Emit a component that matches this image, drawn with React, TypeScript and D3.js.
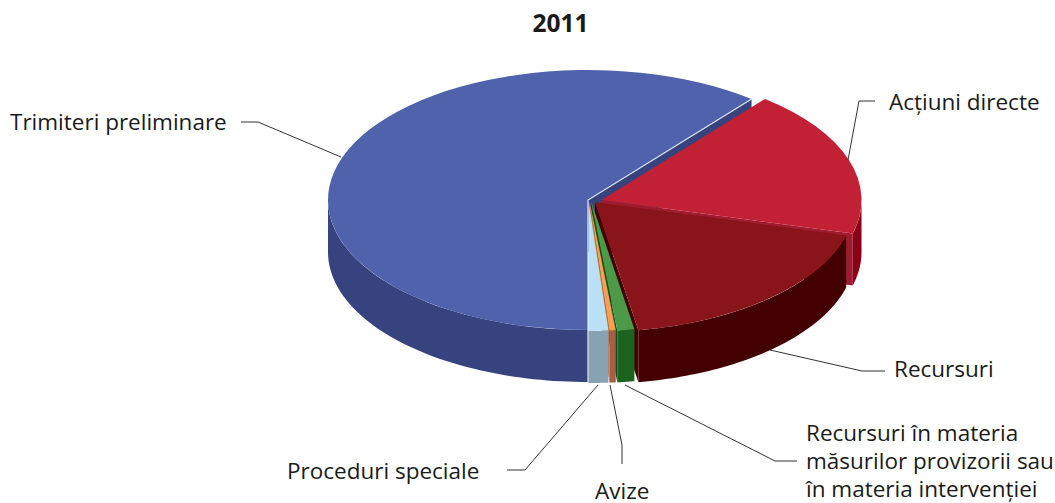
import React from "react";
import * as d3 from "d3";

const title = "2011";
const categories = ["Trimiteri preliminare", "Acțiuni directe", "Recursuri", "Recursuri în materia măsurilor provizorii sau în materia intervenției", "Avize", "Proceduri speciale"];
const shares = [60.83, 18.33, 18.17, 1.06, 0.39, 1.22];
const topColors = ["#4f62ab", "#c22034", "#89151a", "#4b9a48", "#f79f53", "#b9e0f5"];
const sideColors = ["#37437f", "#8b0016", "#440000", "#1b641f", "#ab5c44", "#87a2b2"];
const cutColors = ["#37437f", "#a01a30", "#440000", "#124d18", "#c9703c", "#87a2b2"];

// layout constants
const RX = 260, RY = 130, DEPTH = 52;
const centers: [number, number][] = [[588, 200], [601.5, 200], [595, 202], [591, 201], [589.5, 201], [588.5, 201]];
const paintOrder = [0, 1, 2, 3, 4, 5];

const arcs = d3.pie<number>().sort(null).startAngle(Math.PI).endAngle(3 * Math.PI)(shares);
const arcGen = d3.arc<any>().innerRadius(0).outerRadius(RX);
const lineGen = d3.line();

const rim = (i: number, t: number): [number, number] => [
  centers[i][0] + RX * Math.sin(t),
  centers[i][1] - RY * Math.cos(t),
];

function wall(i: number): string | null {
  const a = arcs[i];
  const ranges: [number, number][] = [];
  for (const k of [0, 2 * Math.PI]) {
    const l = Math.max(a.startAngle - k, Math.PI / 2), h = Math.min(a.endAngle - k, 1.5 * Math.PI);
    if (h > l) ranges.push([l, h]);
  }
  if (!ranges.length) return null;
  return ranges.map(([l, h]) => {
    const ts = d3.range(0, 61).map((k) => l + ((h - l) * k) / 60);
    const top = ts.map((t) => rim(i, t));
    const bot = ts.slice().reverse().map((t) => { const p = rim(i, t); return [p[0], p[1] + DEPTH] as [number, number]; });
    return lineGen([...top, ...bot]) + "Z";
  }).join("");
}

function cutFace(i: number, t: number): string {
  const c = centers[i];
  const p = rim(i, t);
  return lineGen([c, p, [p[0], p[1] + DEPTH], [c[0], c[1] + DEPTH]]) + "Z";
}

const labelFont = "'Open Sans', sans-serif";
const labels: { lines: string[]; x: number; y: number }[] = [
  { lines: ["Trimiteri preliminare"], x: 10, y: 130 },
  { lines: ["Acțiuni directe"], x: 889, y: 110 },
  { lines: ["Recursuri"], x: 894, y: 377 },
  { lines: ["Recursuri în materia", "măsurilor provizorii sau", "în materia intervenției"], x: 806, y: 441 },
  { lines: ["Avize"], x: 595, y: 499 },
  { lines: ["Proceduri speciale"], x: 287, y: 479 },
];
const leaders: [number, number][][] = [
  [[241, 122], [258, 122], [341, 157]],
  [[875, 101], [859, 101], [848, 160]],
  [[770, 350], [862, 371], [885, 371]],
  [[625, 385], [775, 461], [797, 461]],
  [[610, 385], [622, 445], [622, 464]],
  [[598, 385], [525, 470], [507, 470]],
];

export default function App() {
  return (
    <svg width={1055} height={503} style={{ position: "absolute", left: 0, top: 0, background: "#fff" }}>
      <text x={560.5} y={32} textAnchor="middle" fontFamily={labelFont} fontWeight={700} fontSize={24.5} fill="#1a1a1a">{title}</text>
      {paintOrder.map((i) => {
        const a = arcs[i];
        const w = wall(i);
        return (
          <g key={categories[i]}>
            {i < 5 && <path d={cutFace(i, a.endAngle)} fill={cutColors[i]} />}
            {w && <path d={w} fill={sideColors[i]} />}
            <path
              d={arcGen(a) as string}
              transform={`translate(${centers[i][0]},${centers[i][1]}) scale(1,${RY / RX})`}
              fill={topColors[i]}
            />
            {i === 0 && (
              <path d={lineGen([rim(0, a.endAngle), centers[0], [centers[0][0], centers[0][1] + 182]]) as string}
                fill="none" stroke="#dfe6f4" strokeWidth={1.2} />
            )}
          </g>
        );
      })}
      {leaders.map((pts, k) => (
        <path key={k} d={lineGen(pts) as string} fill="none" stroke="#333" strokeWidth={1} />
      ))}
      {labels.map((l) => (
        <text key={l.lines[0]} x={l.x} y={l.y} fontFamily={labelFont} fontSize={22.5} fill="#1a1a1a">
          {l.lines.map((s, k) => (
            <tspan key={k} x={l.x} dy={k === 0 ? 0 : 28}>{s}</tspan>
          ))}
        </text>
      ))}
    </svg>
  );
}
